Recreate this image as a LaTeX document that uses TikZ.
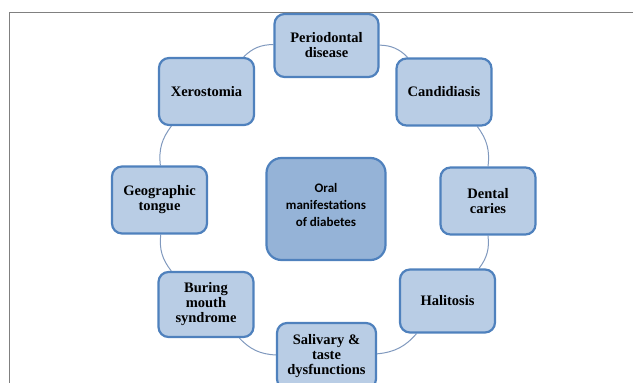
\documentclass[tikz,border=0pt]{standalone}
\usepackage{fontspec}
\setmainfont{Liberation Serif}
\newfontfamily\hubfont{Carlito}
\usetikzlibrary{backgrounds}

\definecolor{boxfill}{RGB}{185,205,229}
\definecolor{boxline}{RGB}{79,129,189}
\definecolor{hubfill}{RGB}{149,179,215}
\definecolor{ringline}{RGB}{128,153,190}
\definecolor{frameline}{RGB}{128,128,128}

\begin{document}
\begin{tikzpicture}[x=1pt, y=1pt,
  sign/.style={draw=boxline, fill=boxfill, line width=2.2pt, rounded corners=10pt,
    minimum width=95pt, minimum height=67pt, inner sep=2pt, align=center,
    font=\bfseries\fontsize{14.5}{15}\selectfont},
  hub/.style={sign, fill=hubfill, rounded corners=15pt, minimum width=119pt, minimum height=102pt,
    text depth=8pt, font=\hubfont\bfseries\fontsize{13}{17}\selectfont},
  ring/.style={draw=ringline, line width=1pt, bend left=22}]
\useasboundingbox (0,0) rectangle (633,383);
\draw[frameline, line width=1pt] (9,0) -- (9,370.7) -- (633,370.7);
% outer boxes, clockwise from the top
\node[sign, minimum width=104pt, minimum height=63pt] (peri) at (326.5,337.5) {Periodontal\\disease};
\node[sign] (cand) at (444,291) {Candidiasis};
\node[sign] (dent) at (488,182) {Dental\\caries};
\node[sign, minimum height=63pt] (hali) at (447.5,82) {Halitosis};
\node[sign, minimum width=99pt, minimum height=66pt] (sali) at (326.5,27) {Salivary \&\\taste\\dysfunctions};
\node[sign, minimum height=65pt] (buri) at (206,78.5) {Buring\\mouth\\syndrome};
\node[sign] (geog) at (159.5,183) {Geographic\\tongue};
\node[sign] (xero) at (206.5,291.5) {Xerostomia};
% centre
\node[hub] (oral) at (326,174) {Oral\\manifestations\\of diabetes};
\begin{scope}[on background layer]
\draw[ring] (peri) to (cand);
\draw[ring] (cand) to (dent);
\draw[ring] (dent) to (hali);
\draw[ring] (hali) to (sali);
\draw[ring] (sali) to (buri);
\draw[ring] (buri) to (geog);
\draw[ring] (geog) to (xero);
\draw[ring] (xero) to (peri);
\end{scope}
\end{tikzpicture}
\end{document}
